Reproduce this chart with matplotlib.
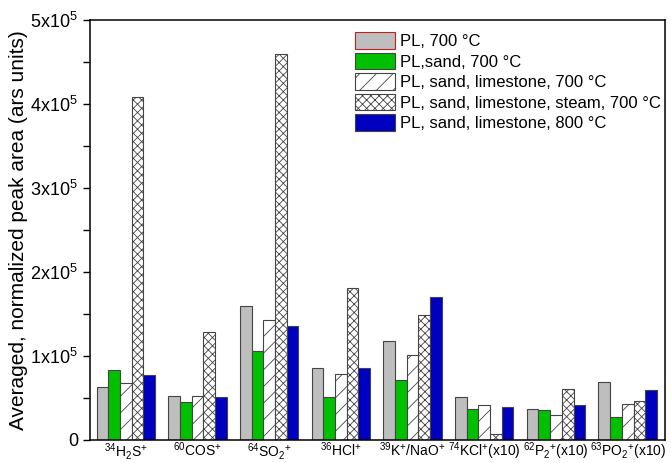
import numpy as np
import matplotlib
matplotlib.use("Agg")
import matplotlib.pyplot as plt
from matplotlib.patches import Patch

plt.rcParams["font.family"] = ["Liberation Sans", "DejaVu Sans"]
plt.rcParams["mathtext.fontset"] = "custom"
plt.rcParams["mathtext.rm"] = "Liberation Sans"
plt.rcParams["hatch.linewidth"] = 0.6

# ── data (peak area, units of 1e5) ───────────────────────────
categories = [r"$^{34}$H$_2$S$^{+}$", r"$^{60}$COS$^{+}$", r"$^{64}$SO$_2$$^{+}$",
              r"$^{36}$HCl$^{+}$", r"$^{39}$K$^{+}$/NaO$^{+}$", r"$^{74}$KCl$^{+}$(x10)",
              r"$^{62}$P$_2$$^{+}$(x10)", r"$^{63}$PO$_2$$^{+}$(x10)"]
series_names = ["PL, 700 °C", "PL,sand, 700 °C", "PL, sand, limestone, 700 °C",
                "PL, sand, limestone, steam, 700 °C", "PL, sand, limestone, 800 °C"]
pl_700        = [0.63, 0.52, 1.59, 0.85, 1.18, 0.51, 0.37, 0.69]
pl_sand       = [0.83, 0.45, 1.06, 0.51, 0.71, 0.37, 0.36, 0.27]
pl_sand_lime  = [0.68, 0.52, 1.43, 0.78, 1.01, 0.41, 0.30, 0.43]
pl_lime_steam = [4.08, 1.29, 4.59, 1.81, 1.49, 0.07, 0.60, 0.46]
pl_lime_800   = [0.77, 0.51, 1.35, 0.85, 1.70, 0.39, 0.42, 0.59]
yticks = [0, 1, 2, 3, 4, 5]
ytick_labels = ["0", r"1x10$^5$", r"2x10$^5$", r"3x10$^5$", r"4x10$^5$", r"5x10$^5$"]

series = [pl_700, pl_sand, pl_sand_lime, pl_lime_steam, pl_lime_800]
faces   = ["#bebebe", "#00c000", "white", "white", "#0000c0"]
hatches = [None, None, "//", "xxxx", None]
EDGE = "#444444"

fig = plt.figure(figsize=(6.71, 4.63), dpi=100)
ax = fig.add_axes([0.134, 0.05, 0.857, 0.907])

x = np.arange(len(categories))
w = 0.163
for i, (vals, fc, h) in enumerate(zip(series, faces, hatches)):
    ax.bar(x + (i - 2) * w, vals, width=w, color=fc, edgecolor=EDGE,
           linewidth=0.8, hatch=h, zorder=2)

ax.set_xlim(-0.5, 7.52)
ax.set_ylim(0, 5)
ax.set_xticks(x)
ax.set_xticklabels(categories, fontsize=10)
ax.tick_params(axis="x", length=0, pad=0.5)
ax.set_yticks(yticks)
ax.set_yticklabels(ytick_labels, fontsize=13)
ax.set_yticks(np.arange(0.5, 5, 1), minor=True)
ax.tick_params(axis="y", which="both", direction="out", length=5, width=1)
for s in ax.spines.values():
    s.set_linewidth(1.1)
ax.set_ylabel("Averaged, normalized peak area (ars units)", fontsize=15, labelpad=2)

edges = ["#c02020", EDGE, EDGE, EDGE, EDGE]
handles = [Patch(facecolor=fc, edgecolor=ec, hatch=h, linewidth=0.8)
           for fc, ec, h in zip(faces, edges, hatches)]
ax.legend(handles, series_names, loc="upper right", bbox_to_anchor=(1.01, 0.995),
          frameon=False, fontsize=12, handlelength=2.4, handleheight=1.15,
          handletextpad=0.3, labelspacing=0.22, borderaxespad=0.2)

plt.savefig("out.png", dpi=100)
